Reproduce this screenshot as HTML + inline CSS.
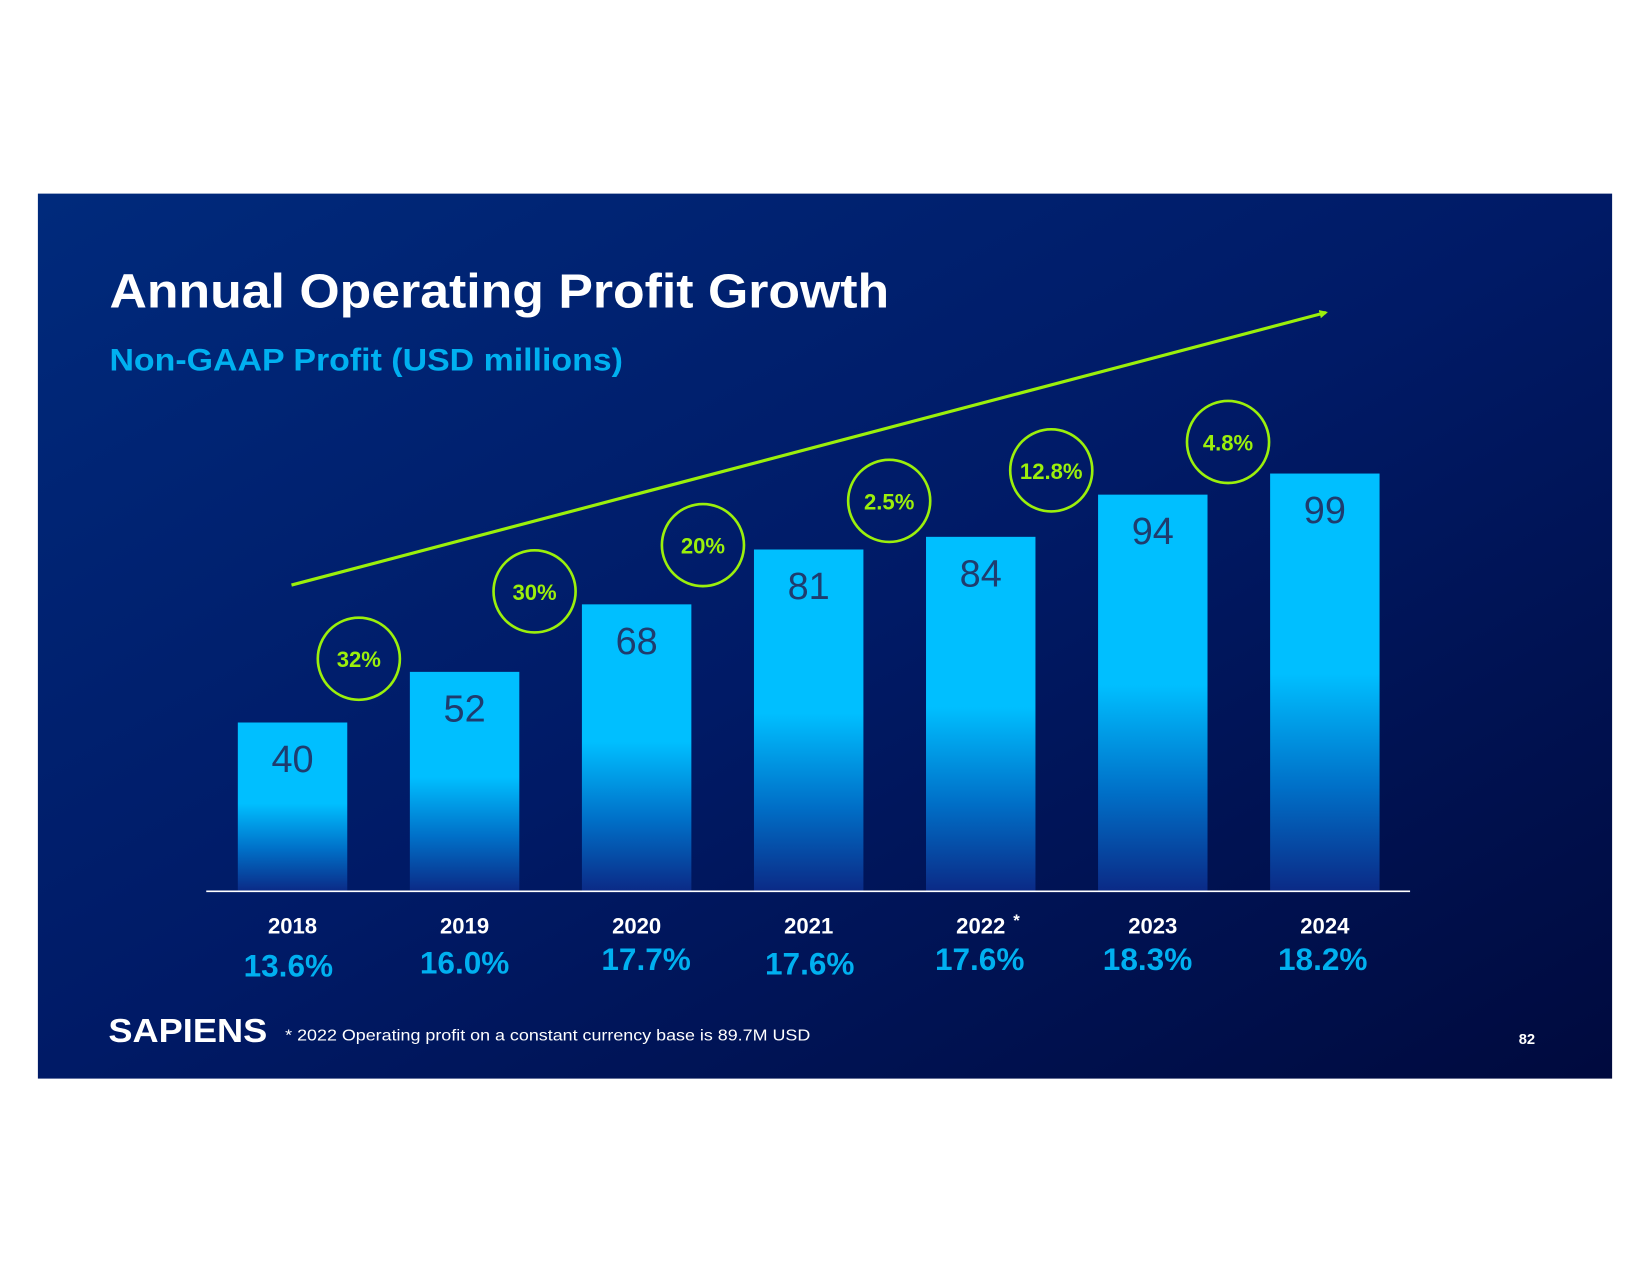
<!DOCTYPE html>
<html><head><meta charset="utf-8">
<style>
html,body{margin:0;padding:0;background:#fff;}
svg{display:block;}
text{font-family:"Liberation Sans",sans-serif;}
</style></head>
<body>
<svg id="chart" width="1650" height="1275" viewBox="0 0 1568 1211.64" xmlns="http://www.w3.org/2000/svg">
<defs>
<linearGradient id="bg" x1="0" y1="0" x2="1" y2="1">
<stop offset="0" stop-color="#002a7c"/>
<stop offset="0.5" stop-color="#001a66"/>
<stop offset="1" stop-color="#000a3e"/>
</linearGradient>
<linearGradient id="barg" x1="0" y1="0" x2="0" y2="1">
<stop offset="0" stop-color="#00bfff"/>
<stop offset="0.48" stop-color="#00bfff"/>
<stop offset="0.75" stop-color="#0070c8"/>
<stop offset="1" stop-color="#0b2a86"/>
</linearGradient>
<marker id="ah" markerWidth="8" markerHeight="8" refX="6" refY="4" orient="auto" markerUnits="userSpaceOnUse">
<path d="M0,0 L8,4 L0,8 z" fill="#9bf00b"/>
</marker>
</defs>
<rect x="36" y="184" width="1496" height="841" fill="url(#bg)"/>
<text x="104" y="292" font-size="46" font-weight="bold" fill="#fff" textLength="741" lengthAdjust="spacingAndGlyphs">Annual Operating Profit Growth</text>
<text x="104" y="352" font-size="30" font-weight="bold" fill="#00b0f0" textLength="488" lengthAdjust="spacingAndGlyphs">Non-GAAP Profit (USD millions)</text>
<line x1="277" y1="556" x2="1260" y2="297" stroke="#9bf00b" stroke-width="3" marker-end="url(#ah)"/>
<g id="bars"></g>
<line x1="196" y1="847" x2="1340" y2="847" stroke="#fff" stroke-width="1.5"/>
<text x="103" y="990" font-size="32" font-weight="bold" fill="#fff" textLength="151" lengthAdjust="spacingAndGlyphs">SAPIENS</text>
<text x="271" y="989" font-size="15" fill="#fff" textLength="499" lengthAdjust="spacingAndGlyphs">* 2022 Operating profit on a constant currency base is 89.7M USD</text>
<text x="1451" y="992" font-size="14" font-weight="bold" fill="#fff" text-anchor="middle">82</text>
</svg>
<script>
const years = ['2018','2019','2020','2021','2022','2023','2024'];
const profits = [40, 52, 68, 81, 84, 94, 99];
const margins = ['13.6%','16.0%','17.7%','17.6%','17.6%','18.3%','18.2%'];
const growth = ['32%','30%','20%','2.5%','12.8%','4.8%'];

const NS = 'http://www.w3.org/2000/svg';
const g = document.getElementById('bars');
const baseY = 847, pxPerUnit = 4.01, x0 = 278, step = 163.5, bw = 104;
const xPos = i => x0 + i * step;
const yPos = v => baseY - v * pxPerUnit;
const marginDy = [6, 3, 0, 4, 0, 0, 0];
const marginDx = [-4, 0, 9, 1, -1, -5, -2];
function mk(tag, attrs, txt){
  const e = document.createElementNS(NS, tag);
  for (const k in attrs) e.setAttribute(k, attrs[k]);
  if (txt !== undefined) e.textContent = txt;
  g.appendChild(e);
  return e;
}
profits.forEach((v, i) => {
  const cx = xPos(i), top = yPos(v);
  const r = mk('rect', {x: cx - bw/2, y: top, width: bw, height: baseY - top, fill: 'url(#barg)'});
  
  
  const t = mk('text', {x: cx, y: top + 47, 'font-size': 36, fill: '#1f3c6e', 'text-anchor': 'middle'}, String(v));
  
  
  const y = mk('text', {x: cx, y: 887, 'font-size': 21, 'font-weight': 'bold', fill: '#fff', 'text-anchor': 'middle'}, years[i]);
  
  
  const m = mk('text', {x: cx + marginDx[i], y: 922 + marginDy[i], 'font-size': 30, 'font-weight': 'bold', fill: '#00b0f0', 'text-anchor': 'middle'}, margins[i]);
  
  
});
const star = mk('text', {x: 966, y: 880, 'font-size': 16, 'font-weight': 'bold', fill: '#fff', 'text-anchor': 'middle'}, '*');


const circleY = [626, 562, 518, 476, 447, 420];
const circleX = [341, 508, 668, 845, 999, 1167];
growth.forEach((s, i) => {
  const c = mk('circle', {cx: circleX[i], cy: circleY[i], r: 39, fill: 'none', stroke: '#9bf00b', 'stroke-width': 2.5});
  
  
  const t = mk('text', {x: circleX[i], y: circleY[i] + 8, 'font-size': 21, 'font-weight': 'bold', fill: '#9bf00b', 'text-anchor': 'middle'}, s);
  
  
});
</script>
</body></html>
